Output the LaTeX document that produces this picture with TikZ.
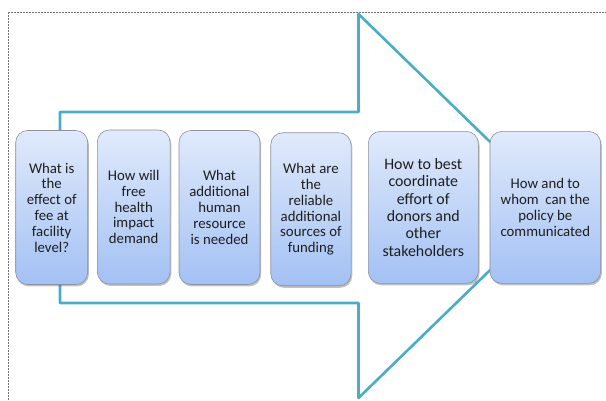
\documentclass[tikz,border=0pt]{standalone}
\usepackage{fontspec}
\setmainfont{Carlito}
\usetikzlibrary{shadows}
\definecolor{arrowc}{RGB}{75,172,198}
\definecolor{boxtop}{RGB}{224,234,251}
\definecolor{boxbot}{RGB}{163,193,244}
\definecolor{boxline}{RGB}{140,145,158}
\definecolor{txt}{RGB}{30,30,30}
\tikzset{
  frameline/.style={draw=black!55, line width=0.5pt, densely dotted},
  arrowline/.style={draw=arrowc, line width=2.6pt, line join=round},
  qbox/.style={rectangle, rounded corners=12pt, draw=boxline, line width=0.6pt,
    top color=boxtop, bottom color=boxbot,
    drop shadow={shadow xshift=1.2pt, shadow yshift=-2pt, opacity=0.35, fill=black!70},
    align=center, inner sep=0pt, text=txt,
    font=\fontsize{14.8}{15.8}\selectfont},
  bigtext/.style={font=\fontsize{15.9}{17.4}\selectfont}
}
\begin{document}
\begin{tikzpicture}[x=1pt,y=-1pt]
\useasboundingbox (0,0) rectangle (606,401);
% dotted frame
\coordinate (f1) at (8,401);
\coordinate (f2) at (8,12);
\coordinate (f3) at (606,12);
\draw[frameline] (f1) -- (f2) -- (f3);
% big arrow outline
\coordinate (a1) at (60,112);
\coordinate (a2) at (358.5,112);
\coordinate (a3) at (358.5,14);
\coordinate (a4) at (556,206);
\coordinate (a5) at (358.5,398);
\coordinate (a6) at (358.5,303);
\coordinate (a7) at (60,303);
\draw[arrowline] (a1) -- (a2) -- (a3) -- (a4) -- (a5) -- (a6) -- (a7) -- cycle;
% boxes
\node[qbox, minimum width=72pt, minimum height=154pt] (b1) at (51.7,207.5)
  {What is\\the\\effect of\\fee at\\facility\\level?};
\node[qbox, minimum width=72.7pt, minimum height=154pt] (b2) at (133.7,207)
  {How will\\free\\health\\impact\\demand};
\node[qbox, minimum width=81pt, minimum height=154pt] (b3) at (219.5,207.5)
  {What\\additional\\human\\resource\\is needed};
\node[qbox, minimum width=80.3pt, minimum height=153pt] (b4) at (310.9,209.3)
  {What are\\the\\reliable\\additional\\sources of\\funding};
\node[qbox, bigtext, minimum width=110pt, minimum height=152pt] (b5) at (423.3,207.4)
  {How to best\\coordinate\\effort of\\donors and\\other\\stakeholders};
\node[qbox, minimum width=110.7pt, minimum height=152pt] (b6) at (545.3,207.4)
  {How and to\\whom~ can the\\policy be\\communicated};
\end{tikzpicture}
\end{document}
